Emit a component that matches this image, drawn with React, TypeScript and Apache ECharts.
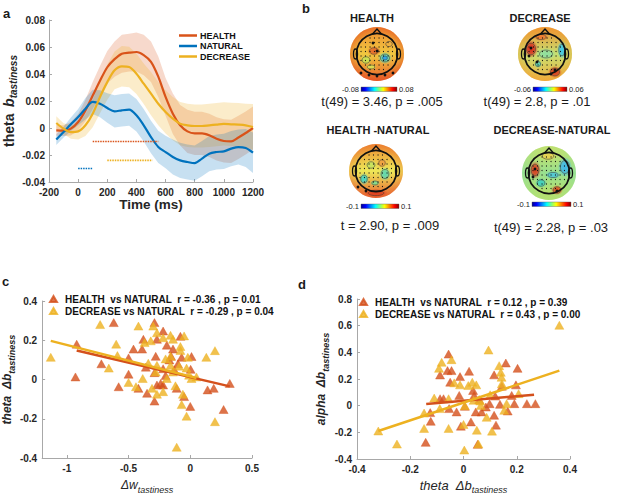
import React, { useEffect, useRef } from 'react';
import * as echarts from 'echarts';

// ---------- Panel a: theta b_tastiness time course ----------
const timeMs = [-150, -100, -50, 0, 50, 100, 150, 200, 250, 300, 350, 400, 450, 500, 550, 600, 650, 700, 750, 800, 850, 900, 950, 1000, 1050, 1100, 1150, 1200];
const healthMean = [-0.0017, -0.002, -0.0005, 0.0044, 0.013, 0.024, 0.035, 0.045, 0.051, 0.055, 0.0558, 0.0563, 0.054, 0.049, 0.038, 0.023, 0.0106, 0.002, -0.0025, -0.004, -0.004, -0.0054, -0.008, -0.0096, -0.0099, -0.007, -0.0037, 0];
const healthCI = [0.004, 0.004, 0.005, 0.006, 0.008, 0.01, 0.011, 0.012, 0.013, 0.014, 0.014, 0.0145, 0.015, 0.015, 0.015, 0.014, 0.015, 0.015, 0.016, 0.016, 0.016, 0.016, 0.016, 0.016, 0.016, 0.016, 0.016, 0.016];
const naturalMean = [-0.0086, -0.003, 0.0027, 0.0081, 0.0143, 0.0193, 0.018, 0.0148, 0.0123, 0.0131, 0.0136, 0.0094, 0.002, -0.0067, -0.014, -0.0178, -0.0215, -0.024, -0.0252, -0.026, -0.0227, -0.019, -0.0178, -0.0173, -0.0153, -0.0141, -0.0148, -0.0183];
const naturalCI = [0.004, 0.004, 0.005, 0.006, 0.008, 0.009, 0.01, 0.011, 0.012, 0.012, 0.012, 0.012, 0.012, 0.012, 0.012, 0.012, 0.013, 0.013, 0.013, 0.013, 0.013, 0.013, 0.013, 0.013, 0.013, 0.013, 0.014, 0.015];
const decreaseMean = [0.0037, -0.0005, -0.003, -0.0025, 0.002, 0.0106, 0.023, 0.034, 0.0427, 0.0457, 0.0452, 0.0402, 0.0328, 0.0254, 0.018, 0.0119, 0.0069, 0.0032, 0.002, 0.0015, 0.0015, 0.002, 0.0025, 0.003, 0.0027, 0.0025, 0.002, 0.0007];
const decreaseCI = [0.005, 0.004, 0.005, 0.006, 0.008, 0.01, 0.012, 0.013, 0.014, 0.015, 0.015, 0.015, 0.015, 0.016, 0.016, 0.016, 0.016, 0.016, 0.016, 0.016, 0.016, 0.016, 0.016, 0.016, 0.016, 0.016, 0.016, 0.017];
const sigHealth = [[100, -0.01], [550, -0.01]];
const sigDecrease = [[200, -0.024], [510, -0.024]];
const sigNatural = [[0, -0.03], [100, -0.03]];

// ---------- Panel b: topography labels ----------
const topoTitles = ['HEALTH', 'DECREASE', 'HEALTH -NATURAL', 'DECREASE-NATURAL'];
const topoStats = ['t(49) = 3.46, p = .005', 't(49) = 2.8, p = .01', 't = 2.90, p = .009', 't(49) = 2.28, p = .03'];
const topoRanges = [['-0.08', '0.08'], ['-0.06', '0.06'], ['-0.1', '0.1'], ['-0.1', '0.1']];

// ---------- Panel c: theta Δb vs Δw ----------
const cHealthName = 'HEALTH  vs NATURAL  r = -0.36 , p = 0.01';
const cDecreaseName = 'DECREASE vs NATURAL  r = -0.29 , p = 0.04';
const cHealth = [[-0.92, 0.18], [-0.93, 0.013], [-0.72, 0.08], [-0.62, 0.29], [-0.5, 0.11], [-0.5, 0.027], [-0.58, -0.037], [-0.46, 0.155], [-0.42, -0.045], [-0.38, 0.205], [-0.39, 0.155], [-0.35, -0.07], [-0.36, 0.063], [-0.29, -0.11], [-0.29, 0.29], [-0.27, 0.205], [-0.28, 0.118], [-0.27, -0.028], [-0.29, 0.035], [-0.22, 0.247], [-0.19, 0.175], [-0.22, 0.055], [-0.22, -0.028], [-0.2, 0.02], [-0.17, 0.1], [-0.14, 0.155], [-0.11, -0.045], [-0.08, 0.22], [-0.07, 0.113], [-0.05, -0.087], [0.01, 0.117], [0.003, 0.052], [0.0, -0.137], [0.14, -0.053], [0.19, -0.045], [0.27, -0.153], [0.32, -0.02], [-0.24, -0.02], [-0.155, 0.118], [-0.13, 0.05], [-0.1, 0.08]];
const cDecrease = [[-1.13, 0.113], [-0.73, 0.28], [-0.66, 0.058], [-0.6, 0.18], [-0.59, 0.122], [-0.5, -0.015], [-0.44, -0.037], [-0.42, 0.272], [-0.385, 0.005], [-0.37, 0.188], [-0.34, 0.083], [-0.32, 0.197], [-0.31, -0.045], [-0.3, 0.272], [-0.27, 0.238], [-0.27, 0.072], [-0.28, 0.038], [-0.27, -0.075], [-0.22, -0.062], [-0.22, 0.213], [-0.2, 0.105], [-0.19, 0.005], [-0.16, 0.225], [-0.14, 0.205], [-0.16, 0.118], [-0.16, 0.072], [-0.14, 0.038], [-0.12, -0.032], [-0.11, -0.345], [-0.08, 0.168], [-0.08, 0.148], [-0.09, 0.068], [-0.06, -0.075], [-0.07, -0.128], [-0.05, 0.222], [-0.02, 0.113], [-0.03, 0.058], [-0.03, -0.187], [-0.01, 0.022], [0.01, 0.005], [0.05, 0.013], [0.13, 0.113], [0.2, 0.147], [0.2, -0.215]];
const cHealthFit = [[-0.92, 0.148], [0.32, -0.035]];
const cDecreaseFit = [[-1.13, 0.197], [0.05, 0.008]];
const cXTicks = [-1, -0.5, 0, 0.5];

// ---------- Panel d: alpha Δb vs theta Δb ----------
const dHealthName = 'HEALTH  vs NATURAL  r = 0.12 , p = 0.39';
const dDecreaseName = 'DECREASE vs NATURAL  r = 0.43 , p = 0.00';
const dHealth = [[-0.142, -0.275], [-0.125, -0.052], [-0.123, -0.117], [-0.056, 0.387], [-0.06, 0.263], [-0.045, 0.263], [-0.088, 0.23], [-0.088, 0.052], [-0.075, 0.052], [-0.05, 0.176], [-0.054, -0.022], [-0.026, -0.047], [-0.016, 0.077], [-0.013, 0.218], [-0.01, -0.154], [0.005, -0.005], [0.021, 0.258], [0.028, -0.122], [0.036, 0.114], [0.04, 0.077], [0.046, -0.047], [0.053, -0.29], [0.059, 0.045], [0.068, -0.047], [0.084, -0.01], [0.098, 0.015], [0.115, -0.072], [0.115, 0.231], [0.119, 0.072], [0.122, -0.146], [0.137, 0.01], [0.144, 0.146], [0.159, 0.32], [0.166, -0.04], [0.181, 0.077], [0.191, 0.015], [0.197, 0.156], [0.203, 0.28], [0.238, 0.015], [0.27, 0.015]];
const dDecrease = [[-0.32, -0.19], [-0.25, -0.288], [-0.148, -0.055], [-0.148, -0.171], [-0.11, 0.057], [-0.092, 0.28], [-0.082, 0.325], [-0.045, 0.345], [-0.035, 0.171], [-0.089, -0.022], [-0.056, 0.052], [-0.056, -0.171], [-0.013, 0.156], [0.0, -0.141], [0.003, -0.333], [0.005, 0.0], [0.018, 0.151], [0.033, 0.176], [0.038, 0.04], [0.048, 0.156], [0.05, -0.184], [0.056, -0.288], [0.063, 0.035], [0.065, 0.002], [0.087, -0.087], [0.094, 0.417], [0.107, -0.191], [0.1, 0.082], [0.134, 0.3], [0.14, 0.25], [0.143, 0.213], [0.144, 0.164], [0.153, -0.035], [0.162, 0.015], [0.207, 0.09], [0.36, 0.603]];
const dHealthFit = [[-0.14, 0.012], [0.265, 0.082]];
const dDecreaseFit = [[-0.32, -0.19], [0.36, 0.263]];

const FONT = "'Liberation Sans', Arial, Helvetica, sans-serif";
const C_H = '#D95319';
const C_N = '#0072BD';
const C_D = '#EDB120';
const AX = '#A8A8A8';
const TXT = '#262626';

const fmt = (v: number) => (Math.abs(v) < 1e-9 ? '0' : String(parseFloat(v.toFixed(3))));

function hexA(hex: string, a: number) {
  const n = parseInt(hex.slice(1), 16);
  return `rgba(${(n >> 16) & 255},${(n >> 8) & 255},${n & 255},${a})`;
}

function axisBase(fs: number, margin: number) {
  return {
    axisLine: { show: true, onZero: false, lineStyle: { color: AX, width: 1 } },
    axisTick: { show: true, inside: true, length: 3, lineStyle: { color: AX } },
    axisLabel: { color: TXT, fontWeight: 'bold', fontSize: fs, fontFamily: FONT, margin, formatter: fmt },
    splitLine: { show: false },
  };
}

// Confidence band drawn as one polygon through the axis scales
function band(id: string, mean: number[], ci: number[], color: string, alpha: number) {
  return {
    type: 'custom', name: id + '_band', xAxisIndex: 0, yAxisIndex: 0, silent: true, z: 1,
    data: timeMs.map((t, i) => [t, mean[i] - ci[i], mean[i] + ci[i]]),
    encode: { x: 0, y: [1, 2] },
    renderItem: (params: any, api: any) => {
      if (params.dataIndex !== 0) return null;
      const pts: number[][] = [];
      for (let i = 0; i < timeMs.length; i++) pts.push(api.coord([timeMs[i], mean[i] + ci[i]]));
      for (let i = timeMs.length - 1; i >= 0; i--) pts.push(api.coord([timeMs[i], mean[i] - ci[i]]));
      return { type: 'polygon', shape: { points: pts }, style: { fill: hexA(color, alpha), stroke: 'none' } };
    },
  };
}

type Blob = [number, number, number, number, string];

function topo(cx: number, cy: number, grad: string[], edge: string, edgeA: number, blobs: Blob[], big: number[][]) {
  const R = 27;
  const els: any[] = [];
  els.push({
    type: 'circle', silent: true, shape: { cx, cy, r: R },
    style: { fill: { type: 'linear', x: 0, y: 0, x2: 0, y2: 1, colorStops: grad.map((c, i) => ({ offset: i / (grad.length - 1), color: c })) } },
  });
  els.push({
    type: 'circle', silent: true, shape: { cx, cy, r: R },
    style: { fill: { type: 'radial', x: 0.5, y: 0.5, r: 0.5, colorStops: [{ offset: 0, color: hexA(edge, 0) }, { offset: 0.7, color: hexA(edge, 0) }, { offset: 1, color: hexA(edge, edgeA) }] } },
  });
  blobs.forEach(([dx, dy, rx, ry, col]) => {
    els.push({
      type: 'ellipse', silent: true, shape: { cx: cx + dx, cy: cy + dy, rx, ry },
      style: { fill: { type: 'radial', x: 0.5, y: 0.5, r: 0.5, colorStops: [{ offset: 0, color: hexA(col, 1) }, { offset: 0.5, color: hexA(col, 0.85) }, { offset: 1, color: hexA(col, 0) }] } },
    });
    els.push({ type: 'ellipse', silent: true, shape: { cx: cx + dx, cy: cy + dy, rx: rx * 0.65, ry: ry * 0.65 }, style: { fill: 'none', stroke: '#333', lineWidth: 0.5 } });
  });
  for (let gx = -16; gx <= 16; gx += 4.5) {
    for (let gy = -16; gy <= 16; gy += 4.5) {
      if (gx * gx + gy * gy <= 17.5 * 17.5) {
        els.push({ type: 'circle', silent: true, shape: { cx: cx + gx, cy: cy + gy, r: 0.55 }, style: { fill: '#111' } });
      }
    }
  }
  big.forEach(([dx, dy]) => els.push({ type: 'circle', silent: true, shape: { cx: cx + dx, cy: cy + dy, r: 1.4 }, style: { fill: '#111' } }));
  els.push({ type: 'circle', silent: true, shape: { cx, cy, r: 20.5 }, style: { fill: 'none', stroke: '#111', lineWidth: 1.7 } });
  els.push({ type: 'polyline', silent: true, shape: { points: [[cx - 4.5, cy - 20], [cx, cy - 25], [cx + 4.5, cy - 20]] }, style: { fill: 'none', stroke: '#111', lineWidth: 1.5 } });
  els.push({ type: 'ellipse', silent: true, shape: { cx: cx - 21.5, cy, rx: 2, ry: 5 }, style: { fill: 'none', stroke: '#111', lineWidth: 1.3 } });
  els.push({ type: 'ellipse', silent: true, shape: { cx: cx + 21.5, cy, rx: 2, ry: 5 }, style: { fill: 'none', stroke: '#111', lineWidth: 1.3 } });
  return els;
}

function colorbar(x1: number, x2: number, y: number, labels: string[]) {
  return [
    {
      type: 'rect', silent: true, shape: { x: x1, y, width: x2 - x1, height: 4.5 },
      style: {
        fill: { type: 'linear', x: 0, y: 0, x2: 1, y2: 0, colorStops: [
          { offset: 0, color: '#00008F' }, { offset: 0.12, color: '#0000FF' }, { offset: 0.38, color: '#00FFFF' },
          { offset: 0.62, color: '#FFFF00' }, { offset: 0.88, color: '#FF0000' }, { offset: 1, color: '#800000' }] },
        stroke: '#555', lineWidth: 0.4,
      },
    },
    { type: 'text', silent: true, x: x1 - 2, y: y + 2.3, style: { text: labels[0], fontSize: 7.5, fontFamily: FONT, fill: '#222', align: 'right', verticalAlign: 'middle' } },
    { type: 'text', silent: true, x: x2 + 2, y: y + 2.3, style: { text: labels[1], fontSize: 7.5, fontFamily: FONT, fill: '#222', align: 'left', verticalAlign: 'middle' } },
  ];
}

function label(text: string, x: number, y: number, fs: number, bold: boolean, align = 'center') {
  return { type: 'text', silent: true, x, y, style: { text, fontSize: fs, fontWeight: bold ? 'bold' : 'normal', fontFamily: FONT, fill: '#1a1a1a', align, verticalAlign: 'middle' } };
}

function subRich(main: number, sub: number, bold: boolean) {
  const w = bold ? 'bold' : 'normal';
  return {
    m: { fontSize: main, fontWeight: 'bold', fontFamily: FONT, color: TXT, verticalAlign: 'middle' },
    i: { fontSize: main, fontWeight: w, fontStyle: 'italic', fontFamily: FONT, color: TXT, verticalAlign: 'middle' },
    s: { fontSize: sub, fontWeight: w, fontStyle: 'italic', fontFamily: FONT, color: TXT, verticalAlign: 'middle', padding: [9, 0, 0, 0] },
  };
}

export default function App() {
  const ref = useRef<HTMLDivElement>(null);
  useEffect(() => {
    if (!ref.current) return;
    const chart = echarts.init(ref.current, null, { renderer: 'svg' });

    const graphics: any[] = [
      label('a', 3, 13, 13, true, 'left'),
      label('b', 302, 8, 13, true, 'left'),
      label('c', 2, 281, 13, true, 'left'),
      label('d', 298, 284, 13, true, 'left'),
      ...topo(377, 54, ['#F08A30', '#F0C840', '#E8602A'], '#E04A1E', 0.45,
        [[8, 4, 7, 6, '#55D8C0'], [8, 4, 3.5, 3, '#2FA0E8'], [-3, -3, 7, 5, '#E86A2A'], [-11, 6, 6, 5, '#C8E455'], [-6, 13, 6, 3, '#D8E050'], [12, -10, 5, 4, '#F0B040']],
        [[-4, -11], [0, -3], [-16, 19], [-8, 21], [0, 22], [8, 21], [16, 19]]),
      ...topo(545, 54, ['#F09030', '#C8E070', '#F0B040'], '#F0A030', 0.45,
        [[-14, -5, 7, 9, '#D83020'], [17, -4, 5, 9, '#40C8E8'], [1, 0, 10, 6, '#90E0A0'], [-7, 10, 4, 4, '#55D0B8'], [10, 18, 7, 6, '#D84020'], [-4, -17, 8, 4, '#F07A30']],
        [[-14, -6], [-16, 2], [10, 16], [6, 20], [-8, 8]]),
      ...topo(376, 171, ['#EE8A30', '#EEE858', '#E86030'], '#E86030', 0.3,
        [[-12, 8, 5, 6, '#45D5C5'], [9, 3, 6, 7, '#60D8B0'], [6, -8, 5, 5, '#F0A040'], [-5, -6, 6, 5, '#C8E460'], [-1, 12, 5, 3, '#80DC90'], [0, 22, 12, 4, '#E04020']],
        [[-18, 16], [-10, 20]]),
      ...topo(549, 173, ['#D0E060', '#98E090', '#C0E060'], '#90E0A0', 0.3,
        [[-14, -3, 6, 9, '#D84020'], [16, -6, 7, 10, '#40B8E8'], [-8, 10, 6, 5, '#40D0C0'], [8, 17, 6, 5, '#E05020'], [-1, -17, 9, 5, '#E8D050'], [4, 2, 8, 4, '#50C8D8']],
        [[-14, -4], [-16, 4], [8, 18]]),
      ...colorbar(361, 397, 87, topoRanges[0]),
      ...colorbar(533, 567, 87, topoRanges[1]),
      ...colorbar(361, 399, 204, topoRanges[2]),
      ...colorbar(532, 571, 202, topoRanges[3]),
      label(topoTitles[0], 372, 17.5, 11, true),
      label(topoTitles[1], 540, 17.5, 11, true),
      label(topoTitles[2], 378, 130, 11, true),
      label(topoTitles[3], 552, 130, 11, true),
      label(topoStats[0], 382, 101, 13, false),
      label(topoStats[1], 537, 101, 13, false),
      label(topoStats[2], 390, 225, 13, false),
      label(topoStats[3], 551, 227, 13, false),
    ];

    const scatterStyle = (color: string) => ({ color, borderColor: color, borderWidth: 0.5 });

    const option: any = {
      animation: false,
      backgroundColor: '#ffffff',
      textStyle: { fontFamily: FONT },
      grid: [
        { left: 49, top: 20, width: 204, height: 162 },
        { left: 41, top: 301, width: 211, height: 160 },
        { left: 357, top: 299, width: 213, height: 162 },
      ],
      xAxis: [
        {
          ...axisBase(10, 5), gridIndex: 0, type: 'value', min: -200, max: 1200, interval: 200,
          name: 'Time (ms)', nameLocation: 'middle', nameGap: 11,
          nameTextStyle: { fontSize: 13.5, fontWeight: 'bold', fontFamily: FONT, color: TXT },
        },
        {
          ...axisBase(10, 5), gridIndex: 1, type: 'value', min: -1.2, max: 0.5,
          axisTick: { show: true, inside: true, length: 3, lineStyle: { color: AX }, customValues: cXTicks },
          axisLabel: { color: TXT, fontWeight: 'bold', fontSize: 10, fontFamily: FONT, margin: 5, formatter: fmt, customValues: cXTicks },
          name: '{i|Δw}{s|tastiness}', nameLocation: 'middle', nameGap: 18,
          nameTextStyle: { rich: subRich(12, 9, false) },
        },
        {
          ...axisBase(10, 5), gridIndex: 2, type: 'value', min: -0.4, max: 0.4, interval: 0.2,
          name: '{i|theta  Δb}{s|tastiness}', nameLocation: 'middle', nameGap: 17,
          nameTextStyle: { rich: subRich(13, 9, false) },
        },
      ],
      yAxis: [
        {
          ...axisBase(10, 4), gridIndex: 0, type: 'value', min: -0.04, max: 0.08, interval: 0.02,
          name: '{m|theta}  {i|b}{s|tastiness}', nameLocation: 'middle', nameGap: 29,
          nameTextStyle: { rich: subRich(14, 10, true) },
        },
        {
          ...axisBase(10, 5), gridIndex: 1, type: 'value', min: -0.4, max: 0.4, interval: 0.2,
          name: '{i|theta  Δb}{s|tastiness}', nameLocation: 'middle', nameGap: 22,
          nameTextStyle: { rich: subRich(12, 9, true) },
        },
        {
          ...axisBase(10, 5), gridIndex: 2, type: 'value', min: -0.4, max: 0.8, interval: 0.2,
          name: '{i|alpha  Δb}{s|tastiness}', nameLocation: 'middle', nameGap: 27,
          nameTextStyle: { rich: subRich(12, 9, true) },
        },
      ],
      legend: [
        {
          data: ['HEALTH', 'NATURAL', 'DECREASE'], orient: 'vertical', left: 174, top: 26,
          icon: 'rect', itemWidth: 18, itemHeight: 2.5, itemGap: 1.5,
          textStyle: { fontSize: 9, fontWeight: 'bold', fontFamily: FONT, color: '#111', padding: [0, 0, 0, -2] },
        },
        {
          data: [cHealthName, cDecreaseName], orient: 'vertical', left: 44, top: 289,
          icon: 'triangle', itemWidth: 7, itemHeight: 6, itemGap: 2,
          textStyle: { fontSize: 10, fontWeight: 'bold', fontFamily: FONT, color: '#111', padding: [0, 0, 0, 3] },
        },
        {
          data: [dHealthName, dDecreaseName], orient: 'vertical', left: 354, top: 292,
          icon: 'triangle', itemWidth: 7, itemHeight: 6, itemGap: 2,
          textStyle: { fontSize: 10, fontWeight: 'bold', fontFamily: FONT, color: '#111', padding: [0, 0, 0, 3] },
        },
      ],
      graphic: { elements: graphics },
      series: [
        band('health', healthMean, healthCI, C_H, 0.22),
        band('decrease', decreaseMean, decreaseCI, C_D, 0.24),
        band('natural', naturalMean, naturalCI, C_N, 0.22),
        { type: 'line', name: 'HEALTH', xAxisIndex: 0, yAxisIndex: 0, data: timeMs.map((t, i) => [t, healthMean[i]]), symbol: 'none', smooth: 0.3, lineStyle: { width: 2.2, color: C_H }, itemStyle: { color: C_H }, z: 3 },
        { type: 'line', name: 'NATURAL', xAxisIndex: 0, yAxisIndex: 0, data: timeMs.map((t, i) => [t, naturalMean[i]]), symbol: 'none', smooth: 0.3, lineStyle: { width: 2.2, color: C_N }, itemStyle: { color: C_N }, z: 3 },
        { type: 'line', name: 'DECREASE', xAxisIndex: 0, yAxisIndex: 0, data: timeMs.map((t, i) => [t, decreaseMean[i]]), symbol: 'none', smooth: 0.3, lineStyle: { width: 2.2, color: C_D }, itemStyle: { color: C_D }, z: 3 },
        { type: 'line', name: 'sigH', xAxisIndex: 0, yAxisIndex: 0, data: sigHealth, symbol: 'none', lineStyle: { width: 1.6, color: C_H, type: [1.5, 1] }, z: 3 },
        { type: 'line', name: 'sigD', xAxisIndex: 0, yAxisIndex: 0, data: sigDecrease, symbol: 'none', lineStyle: { width: 1.6, color: C_D, type: [1.5, 1] }, z: 3 },
        { type: 'line', name: 'sigN', xAxisIndex: 0, yAxisIndex: 0, data: sigNatural, symbol: 'none', lineStyle: { width: 1.6, color: C_N, type: [1.5, 1] }, z: 3 },

        { type: 'scatter', name: cHealthName, xAxisIndex: 1, yAxisIndex: 1, data: cHealth, symbol: 'triangle', symbolSize: [9, 8], itemStyle: scatterStyle('#D4501C'), z: 2 },
        { type: 'scatter', name: cDecreaseName, xAxisIndex: 1, yAxisIndex: 1, data: cDecrease, symbol: 'triangle', symbolSize: [9, 8], itemStyle: scatterStyle('#EDB120'), z: 2 },
        { type: 'line', name: 'fitHc', xAxisIndex: 1, yAxisIndex: 1, data: cHealthFit, symbol: 'none', lineStyle: { width: 2.5, color: '#D4501C' }, z: 4 },
        { type: 'line', name: 'fitDc', xAxisIndex: 1, yAxisIndex: 1, data: cDecreaseFit, symbol: 'none', lineStyle: { width: 2.5, color: '#EDB120' }, z: 4 },

        { type: 'scatter', name: dHealthName, xAxisIndex: 2, yAxisIndex: 2, data: dHealth, symbol: 'triangle', symbolSize: [9, 8], itemStyle: scatterStyle('#D4501C'), z: 2 },
        { type: 'scatter', name: dDecreaseName, xAxisIndex: 2, yAxisIndex: 2, data: dDecrease, symbol: 'triangle', symbolSize: [9, 8], itemStyle: scatterStyle('#EDB120'), z: 2 },
        { type: 'line', name: 'fitHd', xAxisIndex: 2, yAxisIndex: 2, data: dHealthFit, symbol: 'none', lineStyle: { width: 2.5, color: '#D4501C' }, z: 4 },
        { type: 'line', name: 'fitDd', xAxisIndex: 2, yAxisIndex: 2, data: dDecreaseFit, symbol: 'none', lineStyle: { width: 2.5, color: '#EDB120' }, z: 4 },
      ],
    };
    chart.setOption(option);
    return () => chart.dispose();
  }, []);

  return <div ref={ref} style={{ position: 'absolute', left: 0, top: 0, width: 617, height: 495, background: '#fff' }} />;
}
